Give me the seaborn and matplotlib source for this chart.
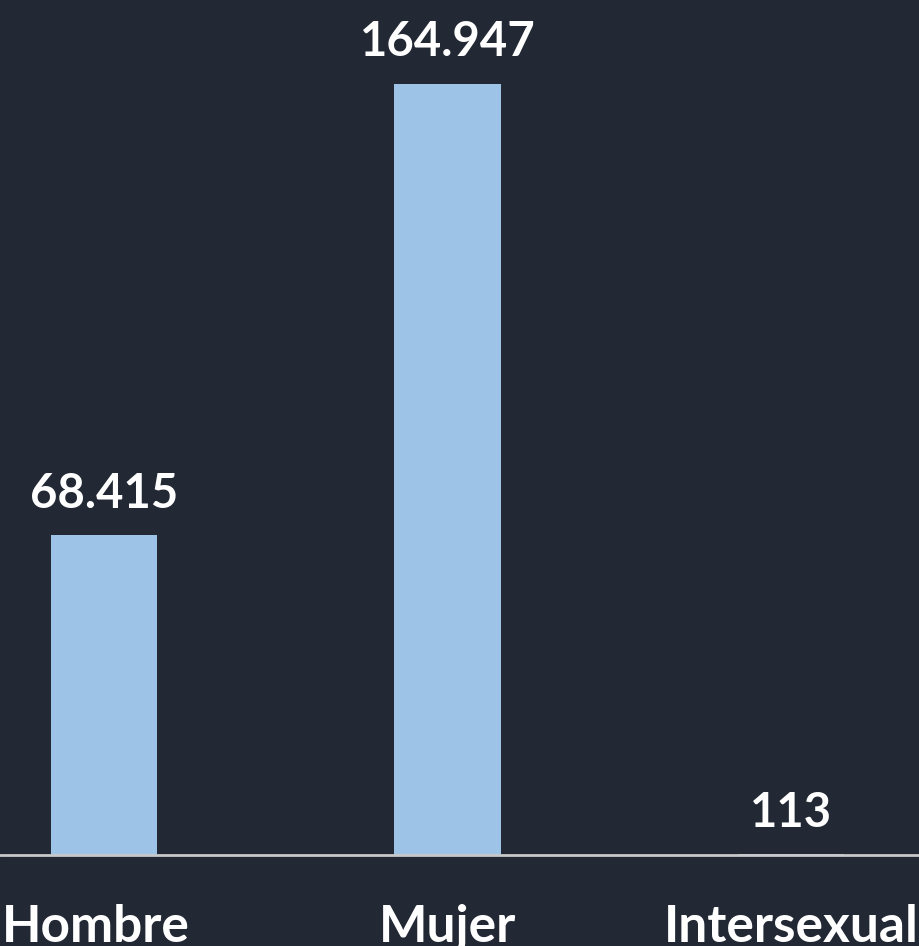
import matplotlib
matplotlib.use("Agg")
import matplotlib.pyplot as plt
import matplotlib.transforms as mtransforms
import seaborn as sns
import pandas as pd

categories = ["Hombre", "Mujer", "Intersexual"]
values = [68415, 164947, 113]
value_labels = ["68.415", "164.947", "113"]

bg = "#222935"
bar_color = "#9DC3E6"

sns.set_theme(style="white")
plt.rcParams['font.family'] = ['Lato', 'DejaVu Sans']

df = pd.DataFrame({"cat": categories, "val": values})

fig = plt.figure(figsize=(9.19, 9.46), dpi=100, facecolor=bg)
ax = fig.add_axes([0, 91 / 946, 1, 855 / 946])
ax.set_facecolor(bg)
sns.barplot(data=df, x="cat", y="val", color=bar_color, width=0.31,
            saturation=1, linewidth=0, edgecolor="none", ax=ax, zorder=2)

ax.set_xlim(-0.303, 2.373)
ax.set_ylim(0, 182890)
ax.bar_label(ax.containers[0], labels=value_labels, padding=14,
             color="white", fontsize=34, fontweight="bold")

for s in ax.spines.values():
    s.set_visible(False)
ax.axhline(0, color="#C8C8C8", lw=2, zorder=3, clip_on=False)
ax.set_yticks([])
ax.set_xlabel("")
ax.set_ylabel("")
ax.tick_params(axis="x", length=0, pad=35, labelsize=37, labelcolor="white")
labels = ax.get_xticklabels()
for t in labels:
    t.set_fontweight("bold")
shift = mtransforms.ScaledTranslation(-8 / 100, 0, fig.dpi_scale_trans)
labels[0].set_transform(labels[0].get_transform() + shift)

fig.savefig("out.png", dpi=100, facecolor=bg)
